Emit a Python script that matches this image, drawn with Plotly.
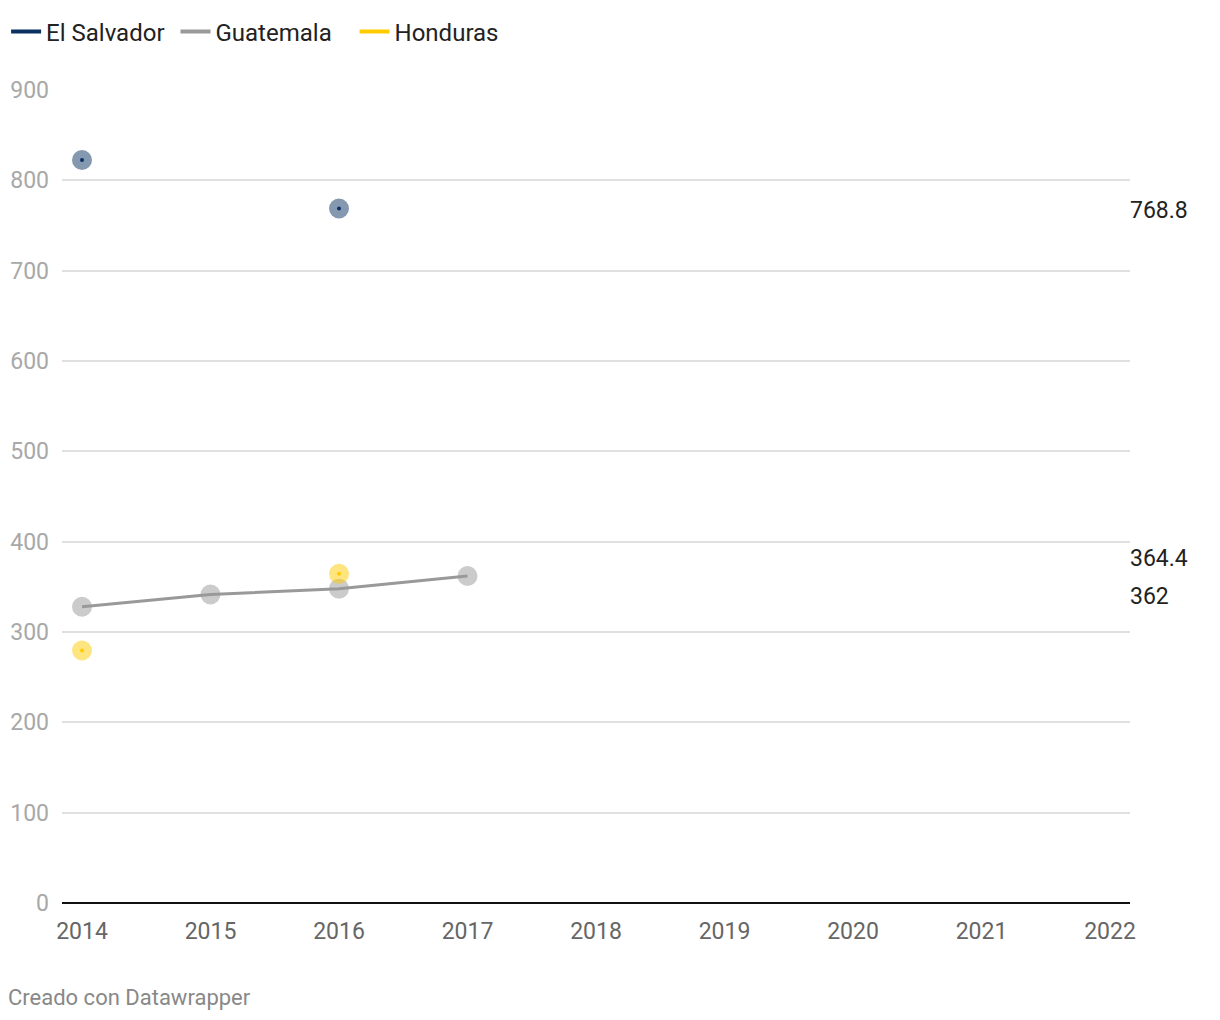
import plotly.graph_objects as go

years = [2014, 2015, 2016, 2017]
el_salvador = [822.5, None, 768.8, None]
guatemala = [328.0, 341.5, 348.0, 362.0]
honduras = [279.5, None, 364.4, None]

x_ticks = list(range(2014, 2023))
y_ticks = list(range(0, 901, 100))

series = [
    ("El Salvador", el_salvador, "#0a3161", "rgba(10,49,97,0.5)", 768.8, -2),
    ("Guatemala", guatemala, "#999999", "rgba(160,160,160,0.55)", 362, -21),
    ("Honduras", honduras, "#ffcc00", "rgba(255,204,0,0.5)", 364.4, 15),
]
legend_pad = {"El Salvador": "&nbsp;", "Guatemala": "&nbsp;&nbsp;&nbsp;", "Honduras": ""}

PL, PR, PT, PB = 62, 1130, 90, 903
PW, PH = PR - PL, PB - PT

fig = go.Figure()
for name, vals, col, halo, _, _ in series:
    fig.add_trace(go.Scatter(
        x=years, y=vals, mode="markers", showlegend=False, hoverinfo="skip",
        marker=dict(size=20, color=halo, line=dict(width=0)),
    ))
for name, vals, col, halo, _, _ in series:
    fig.add_trace(go.Scatter(
        x=years, y=vals, mode="lines+markers", name=name, connectgaps=False,
        showlegend=False,
        line=dict(color=col, width=3),
        marker=dict(size=4 if name != "Guatemala" else 0.1, color=col),
    ))
for name, vals, col, halo, _, _ in series:
    fig.add_trace(go.Scatter(
        x=[None], y=[None], mode="lines", name=name + legend_pad[name], showlegend=True,
        line=dict(color=col, width=4),
    ))

annotations = []
for name, vals, col, halo, label, shift in series:
    annotations.append(dict(
        x=1, xref="paper", y=label, yref="y", text=f"{label:g}",
        showarrow=False, xanchor="left", yanchor="middle", yshift=shift,
        xshift=-2, font=dict(size=23, color="#222222"),
    ))
annotations.append(dict(
    x=(10 - PL) / PW, xref="paper", y=(PB - 997) / PH, yref="paper",
    text="Creado con Datawrapper", showarrow=False, xanchor="left", yanchor="middle",
    xshift=-4, font=dict(size=22, color="#888888"),
))

fig.update_layout(
    width=1220, height=1020,
    margin=dict(l=PL, r=1220 - PR, t=PT, b=1020 - PB, autoexpand=False),
    paper_bgcolor="white", plot_bgcolor="white",
    font=dict(family="Roboto", size=23, color="#222222"),
    showlegend=True,
    legend=dict(orientation="h", x=0.005, xref="container", y=1 - 32 / 1020,
                yref="container", yanchor="middle", xanchor="left",
                font=dict(size=24, color="#222222"), itemwidth=30,
                traceorder="normal"),
    xaxis=dict(range=[2014 - 20 / 128.5, 2022 + 20 / 128.5], tickvals=x_ticks,
               ticktext=[str(t) for t in x_ticks], showgrid=False, zeroline=False,
               showline=False, tickfont=dict(size=23, color="#666666"),
               ticks="", ticklabelstandoff=12, automargin=False),
    yaxis=dict(range=[0, 900], tickvals=y_ticks, showgrid=True, gridcolor="#e0e0e0",
               gridwidth=1.5, zeroline=True, zerolinecolor="#111111", zerolinewidth=2,
               tickfont=dict(size=23, color="#a8a8a8"), ticks="", ticklabelstandoff=12,
               automargin=False),
    annotations=annotations,
    hovermode=False,
)

fig.write_html("out.html")
